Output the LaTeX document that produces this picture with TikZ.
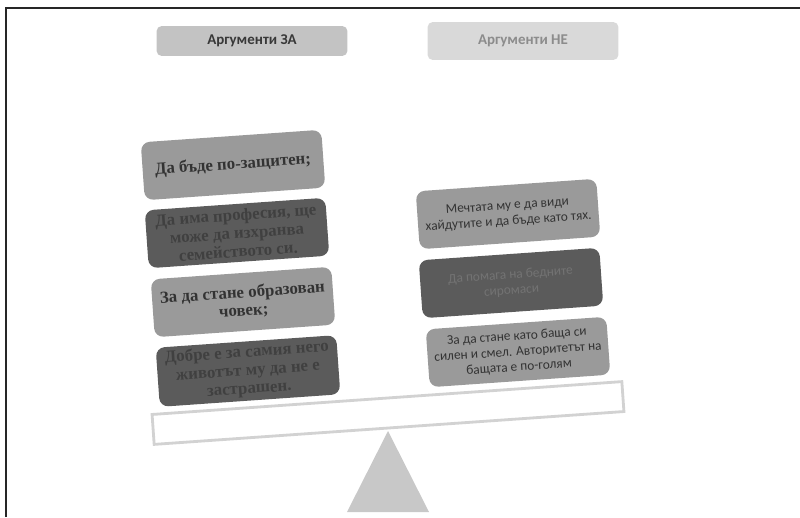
\documentclass[tikz,border=0pt]{standalone}
\usepackage{fontspec}
\setmainfont{Liberation Serif}
\newfontfamily\carlito{Carlito}
\definecolor{hdrA}{HTML}{C3C3C3}
\definecolor{hdrB}{HTML}{D9D9D9}
\definecolor{boxlight}{HTML}{9A9A9A}
\definecolor{boxdark}{HTML}{5B5B5B}
\definecolor{beamgray}{HTML}{D2D2D2}
\definecolor{standgray}{HTML}{C8C8C8}
\begin{document}
\begin{tikzpicture}
[
    x=0.02cm, y=-0.02cm,
    headbox/.style={rectangle,rounded corners=3pt,minimum width=3.82cm,align=center,font=\carlito\bfseries\fontsize{8.5}{10}\selectfont},
    argbox/.style={rectangle,rounded corners=5pt,rotate=4,minimum width=3.62cm,minimum height=1.16cm,align=center,inner sep=2pt},
    pro/.style={argbox,font=\bfseries\fontsize{9.6}{10.4}\selectfont},
    contra/.style={argbox,font=\carlito\fontsize{7.6}{8.8}\selectfont},
    light/.style={fill=boxlight,text=black!80},
]

\useasboundingbox (0,0) rectangle (800,517);
\draw[line width=1.2pt,black!85] (6,517) -- (6,8) -- (800,8);

\node[headbox,fill=hdrA,text=black!78,minimum height=0.6cm] (za) at (252,41) {Аргументи ЗА};
\node[headbox,fill=hdrB,text=black!45,minimum height=0.76cm] (ne) at (523,41) {Аргументи НЕ};

\node[pro,light] (za1) at (233,165) {Да бъде по-защитен;};
\node[pro,fill=boxdark,text=black!75] (za2) at (237,233) {Да има професия, ще\\може да изхранва\\семейството си.};
\node[pro,light] (za3) at (243,302) {За да стане образован\\човек;};
\node[pro,fill=boxdark,text=black!75] (za4) at (248,371) {Добре е за самия него\\животът му да не е\\застрашен.};

\node[contra,light] (ne1) at (508,214) {Мечтата му е да види\\хайдутите и да бъде като тях.};
\node[contra,fill=boxdark,text=black!55] (ne2) at (511,283) {Да помага на бедните\\сиромаси};
\node[contra,light] (ne3) at (518,352) {За да стане като баща си\\силен и смел. Авторитетът на\\бащата е по-голям};

\node[rectangle,rotate=4,draw=beamgray,line width=1.6pt,fill=white,minimum width=9.42cm,minimum height=0.6cm] (beam) at (388,413) {};
\fill[standgray] (388,431) -- (429,512) -- (347,512) -- cycle;
\end{tikzpicture}
\end{document}
